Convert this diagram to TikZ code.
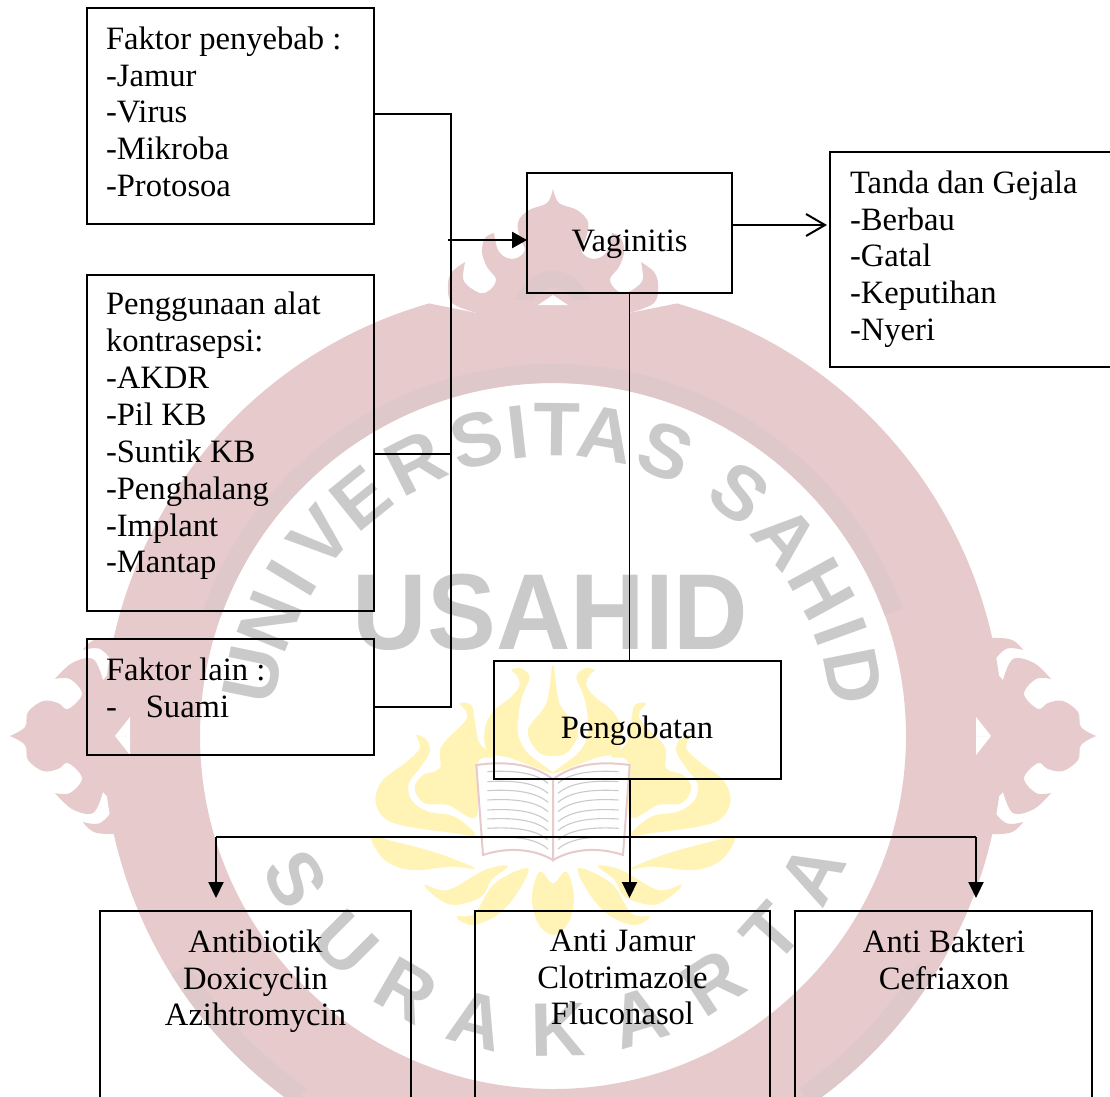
\documentclass[tikz,border=0pt]{standalone}
\usepackage{fontspec}
\setmainfont{Liberation Serif}
\newfontfamily\capfont{Liberation Sans}
\usetikzlibrary{arrows.meta}
\definecolor{merah}{HTML}{E6CACC}
\definecolor{gelap}{HTML}{DFC8CA}
\definecolor{abu}{HTML}{CBCACA}
\definecolor{kuning}{HTML}{FFF3B6}

\begin{document}
\begin{tikzpicture}[x=1pt, y=-1pt,
		kotak/.style={draw, line width=1.5pt, inner sep=0pt, outer sep=0pt},
		teks/.style={inner sep=0pt, outer sep=0pt, align=left, anchor=north west, font=\fontsize{32.6}{36.9}\selectfont},
		tengah/.style={inner sep=0pt, outer sep=0pt, align=center, anchor=north, font=\fontsize{32.6}{36.9}\selectfont},
		garis/.style={line width=1.5pt},
		panah/.style={line width=2pt, -{Triangle[length=16pt, width=15pt]}},
		huruf/.style={text=abu, inner sep=0pt, font=\capfont\bfseries\fontsize{76}{76}\selectfont}]
		\path [use as bounding box, clip] (0, 0) rectangle (1110, 1096);
		\fill [white] (0, 0) rectangle (1110, 1096);

		\begin{scope}[shift={(553, 736)}, x=1pt, y=1pt] % Cincin
			\fill [merah, even odd rule] (106:450) arc [start angle=106, end angle=434, radius=450] -- (76, 423) -- (-76, 423) -- cycle (0, 0) circle [radius=353];
			\fill [gelap] (20:353) arc [start angle=20, end angle=160, radius=353] -- (160:372) arc [start angle=160, end angle=20, radius=372] -- cycle;
			\fill [gelap] (212:450) arc [start angle=212, end angle=235, radius=450] -- (235:430) arc [start angle=235, end angle=212, radius=430] -- cycle;
			\fill [gelap] (328:450) arc [start angle=328, end angle=305, radius=450] -- (305:430) arc [start angle=305, end angle=328, radius=430] -- cycle;
		\end{scope}

		\foreach \s in {1, -1} { % Hiasan atas
			\begin{scope}[shift={(553, 0)}, xscale=\s]
				\fill [merah] plot [smooth, tension=.6] coordinates {(0, 189) (6, 203) (24, 210) (35, 222) (33, 238) (28, 250) (36, 258) (46, 258) (55, 250) (59, 233)}
					-- plot [smooth, tension=.6] coordinates {(59, 233) (68, 238) (71, 252) (66, 267) (57, 279) (63, 290) (73, 293) (86, 285) (90, 277) (88, 262)}
					-- plot [smooth, tension=.6] coordinates {(88, 262) (101, 272) (105, 285) (101, 303) (76, 313)}
					-- (76, 340) -- (0, 340) -- cycle;
				\fill [gelap] (0, 271) .. controls (20, 271) and (30, 285) .. (38, 300) -- (20, 300) .. controls (12, 290) and (5, 288) .. (0, 288) -- cycle;
				\fill [white] (0, 295) -- (15, 305) -- (0, 305) -- cycle;
			\end{scope}
		}
		\foreach \s in {1, -1} { % Hiasan samping
			\foreach \t in {1, -1} {
				\begin{scope}[shift={(553, 736)}, xscale=\s, yscale=\t]
					\fill [merah] plot [smooth, tension=.6] coordinates {(543, 0) (528, 9) (525, 24) (510, 35) (495, 33) (485, 27) (471, 42) (483, 57) (498, 57)}
						-- plot [smooth, tension=.6] coordinates {(498, 57) (481, 73) (460, 77) (450, 56)}
						-- plot [smooth, tension=.6] coordinates {(450, 56) (440, 71) (453, 87) (470, 86)}
						-- plot [smooth, tension=.6] coordinates {(470, 86) (456, 97) (420, 97) (400, 91)}
						-- (380, 50) -- (380, 0) -- cycle;
					\fill [white] (438, 0) -- (423, 19) -- (423, 0) -- cycle;
				\end{scope}
			}
		}

		\begin{scope}[shift={(553, 736)}, x=1pt, y=1pt] % Tulisan melingkar
			\foreach \h/\a [count=\i] in {U/168.4, N/157.9, I/148.8, V/139.6, E/128.9, R/116.7, S/104.5, I/96.5, T/89.3, A/80, S/68.3, S/52.4, A/40.4, H/28.7, I/19.9, D/11.3}
				\node (atas\i) [huruf, rotate=\a-90] at (\a:306) {\h};
			\foreach \h/\a [count=\i] in {S/209, U/225, R/240, A/255, K/271, A/287, R/303, T/318, A/332}
				\node (bawah\i) [huruf, rotate=\a+90] at (\a:294) {\h};
		\end{scope}
		\node (usahid) [text=abu, inner sep=0pt, anchor=base, xscale=.955, transform shape, font=\capfont\bfseries\fontsize{108}{108}\selectfont] at (550.5, 649) {USAHID};

		\foreach \s in {1, -1} { % Lambang kuning
			\begin{scope}[shift={(553, 640)}, xscale=\s, x=.3333pt, y=-.3333pt]
				\fill [kuning] plot [smooth cycle, tension=.6] coordinates {(-125, 90) (-95, 85) (-70, 110) (-85, 150) (-100, 200) (-105, 280) (-75, 340) (0, 400) (-125, 355) (-195, 335) (-205, 270) (-180, 215) (-125, 170) (-100, 135) (-110, 105)};
				\fill [kuning] plot [smooth cycle, tension=.6] coordinates {(-410, 285) (-380, 300) (-370, 335) (-400, 385) (-433, 430) (-425, 480) (-375, 515) (-295, 530) (-233, 585) (-305, 578) (-435, 560) (-505, 535) (-533, 480) (-510, 420) (-445, 370) (-400, 325)};
				\fill [kuning] plot [smooth cycle, tension=.6] coordinates {(-280, 190) (-245, 195) (-235, 240) (-220, 310) (-175, 350) (-227, 370) (-230, 530) (-315, 495) (-385, 490) (-415, 445) (-390, 405) (-340, 385) (-335, 320) (-265, 245) (-260, 215)};
				\fill [kuning] plot [smooth cycle, tension=.6] coordinates {(-545, 592) (-475, 605) (-345, 640) (-235, 685) (-305, 680) (-425, 690) (-505, 660)};
				\fill [kuning] plot [smooth cycle, tension=.6] coordinates {(-385, 735) (-315, 750) (-205, 690) (-135, 678) (-185, 720) (-215, 770) (-295, 795) (-345, 775)};
				\fill [kuning] plot [smooth cycle, tension=.6] coordinates {(-290, 830) (-235, 820) (-175, 730) (-75, 685) (-115, 770) (-175, 830) (-245, 855)};
				\filldraw [draw=merah, fill=white, line width=2pt] (-230, 375) .. controls (-120, 360) and (-50, 380) .. (0, 418) -- (0, 660) .. controls (-70, 620) and (-150, 625) .. (-210, 645) -- cycle;
				\foreach \y in {395, 425, 452, 480, 510, 537, 565, 592}
					\draw [abu, line width=1.1pt] (-197, \y) .. controls (-110, \y-5) and (-50, \y+5) .. (-15, \y+35);
			\end{scope}
		}
		\begin{scope}[shift={(553, 640)}, x=.3333pt, y=-.3333pt]
			\fill [kuning] plot [smooth cycle, tension=.6] coordinates {(0, 75) (20, 190) (75, 270) (45, 335) (0, 348) (-45, 335) (-75, 270) (-20, 190)};
			\fill [kuning] plot [smooth cycle, tension=.6] coordinates {(-40, 695) (0, 730) (40, 695) (63, 770) (45, 850) (0, 885) (-45, 850) (-63, 770)};
		\end{scope}

		\node (penyebab) [kotak, minimum width=287pt, minimum height=216pt] at (230.5, 116) {};
		\node (kontrasepsi) [kotak, minimum width=287pt, minimum height=336pt] at (230.5, 443) {};
		\node (lain) [kotak, minimum width=287pt, minimum height=116pt] at (230.5, 697) {};
		\node (vaginitis) [kotak, line width=2pt, minimum width=205pt, minimum height=120pt] at (629.5, 233) {};
		\node (tanda) [kotak, minimum width=284pt, minimum height=215pt] at (972, 259.5) {};
		\node (pengobatan) [kotak, minimum width=287pt, minimum height=118pt] at (637.5, 720) {};
		\node (antibiotik) [kotak, minimum width=311pt, minimum height=220pt] at (255.5, 1021) {};
		\node (antijamur) [kotak, minimum width=295pt, minimum height=220pt] at (622.5, 1021) {};
		\node (antibakteri) [kotak, minimum width=297pt, minimum height=220pt] at (943.5, 1021) {};

		\node (tekspenyebab) [teks] at (106, 26.5) {Faktor penyebab :\\-Jamur\\-Virus\\-Mikroba\\-Protosoa};
		\node (tekskontrasepsi) [teks] at (106, 292) {Penggunaan alat\\kontrasepsi:\\-AKDR\\-Pil KB\\-Suntik KB\\-Penghalang\\-Implant\\-Mantap};
		\node (tekslain) [teks] at (106, 657.5) {Faktor lain :\\-\hspace{29pt}Suami};
		\node (teksvaginitis) [tengah, anchor=base] at (629.5, 251.5) {Vaginitis};
		\node (tekstanda) [teks] at (850, 170.5) {Tanda dan Gejala\\-Berbau\\-Gatal\\-Keputihan\\-Nyeri};
		\node (tekspengobatan) [tengah, anchor=base] at (637, 738) {Pengobatan};
		\node (teksantibiotik) [tengah] at (255.5, 929.5) {Antibiotik\\Doxicyclin\\Azihtromycin};
		\node (teksantijamur) [tengah] at (622.5, 929.5) {Anti Jamur\\Clotrimazole\\Fluconasol};
		\node (teksantibakteri) [tengah] at (944, 929.5) {Anti Bakteri\\Cefriaxon};

		\coordinate (rel) at (451, 707); % Garis pengumpul
		\coordinate (masuk) at (448, 240);
		\coordinate (keluar) at (827, 225);
		\coordinate (kiri) at (216, 837);
		\coordinate (kanan) at (976, 837);

		\draw [garis] ([yshift=2pt]penyebab.east) -| (rel) -- ([yshift=-10pt]lain.east);
		\draw [garis] ([yshift=-11pt]kontrasepsi.east) -- ++(77, 0);
		\draw [line width=2.5pt, -{Triangle[length=15pt, width=16pt]}] (masuk) -- (vaginitis.west |- masuk);
		\draw [line width=2pt, -{Straight Barb[length=19pt, width=22pt]}] (vaginitis.east |- keluar) -- (keluar);
		\draw [line width=1.2pt] (vaginitis.south) -- (vaginitis.south |- pengobatan.north);
		\draw [garis] (kiri) -- (kanan);
		\draw [panah, shorten >=13pt] (kiri) -- (kiri |- antibiotik.north);
		\draw [panah, shorten >=13pt] (vaginitis.south |- pengobatan.south) -- (vaginitis.south |- antijamur.north);
		\draw [panah, shorten >=13pt] (kanan) -- (kanan |- antibakteri.north);
	\end{tikzpicture}
\end{document}
